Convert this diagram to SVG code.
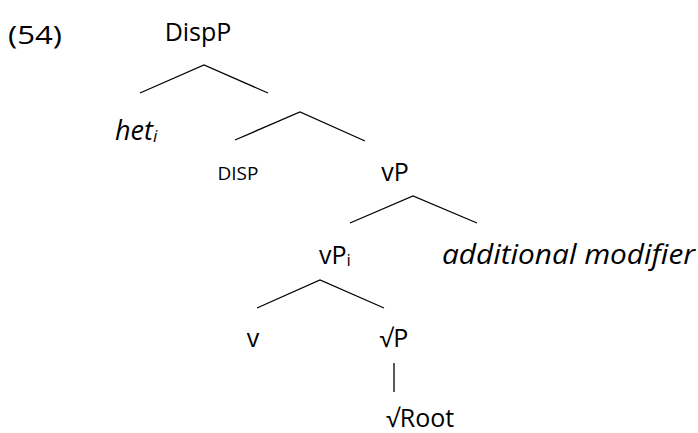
<svg xmlns="http://www.w3.org/2000/svg" width="698" height="433" viewBox="0 0 698 433">
<style>
text{font-family:"Open Sans","Noto Sans","Liberation Sans",sans-serif;font-size:25px;fill:#000}
.it{font-style:italic;font-size:27px}
.sm{font-size:19px}
.c{text-anchor:middle}
#edges line,#edges polyline{stroke:#000;stroke-width:1.3;fill:none}
</style>
<rect width="698" height="433" fill="#fff"/>
<g id="label54"><text x="8" y="44" font-size="31" textLength="54" lengthAdjust="spacingAndGlyphs">(54)</text></g>
<g id="edges">
<polyline points="140,93 204,65 268,93"/>
<polyline points="235,140 300,112 365,141"/>
<polyline points="350,223 413,196 477,223"/>
<polyline points="257,308 320,280 384,308"/>
<line x1="394" y1="363" x2="394" y2="392"/>
</g>
<g id="n-dispP"><text class="c" x="198" y="41">DispP</text></g>
<g id="n-het"><text class="it" x="115" y="140">het<tspan font-size="17" dy="2">i</tspan></text></g>
<g id="n-DISP"><text class="c sm" x="238" y="180">DISP</text></g>
<g id="n-vP"><text class="c" x="395" y="181">vP</text></g>
<g id="n-vPi"><text x="319" y="264">vP<tspan font-size="17" dy="2">i</tspan></text></g>
<g id="n-mod"><text class="it" x="442" y="264" textLength="253" lengthAdjust="spacingAndGlyphs">additional modifier</text></g>
<g id="n-v"><text class="c" x="253" y="347">v</text></g>
<g id="n-rootP"><text class="c" x="394" y="347">√P</text></g>
<g id="n-root"><text x="386" y="427">√Root</text></g>
</svg>
